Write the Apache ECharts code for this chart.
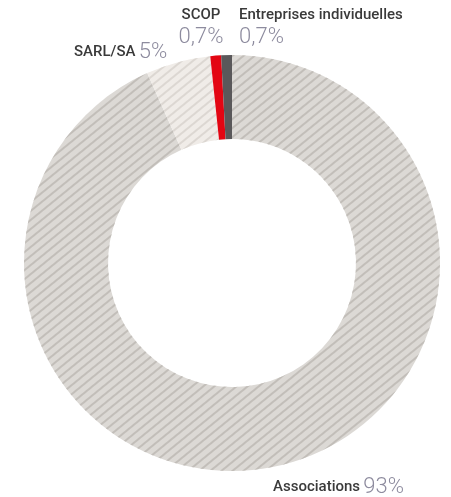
<!DOCTYPE html>
<html>
<head>
<meta charset="utf-8">
<script src="https://cdn.jsdelivr.net/npm/echarts@6/dist/echarts.min.js"></script>
<style>
  html, body { margin: 0; padding: 0; background: #fff; }
  #main { width: 451px; height: 497px; }
</style>
</head>
<body>
<div id="main"></div>
<script>
// donut: statut juridique
var names = ['Associations', 'SARL/SA', 'SCOP', 'Entreprises individuelles'];
var values = [93, 5, 0.7, 0.7];
var valueLabels = ['93%', '5%', '0,7%', '0,7%'];

var colors = ['#dcd9d5', '#f0ece8', '#e30613', '#5a585a'];
var decalColors = ['#c2beb9', '#dcd7d2', null, null];

// label spots (x, y, align)
var labelSpots = [
  { x: 273, y: 487, align: 'left' },
  { x: 74, y: 52, align: 'left' },
  { x: 201, y: 26, align: 'center' },
  { x: 239, y: 26, align: 'left' }
];

var chart = echarts.init(document.getElementById('main'), null, { renderer: 'canvas' });

var data = names.map(function (n, i) {
  var item = {
    name: n,
    value: values[i],
    itemStyle: { color: colors[i] }
  };
  if (decalColors[i]) {
    item.itemStyle.decal = {
      symbol: 'rect',
      symbolSize: 1,
      dashArrayX: [1, 0],
      dashArrayY: [1.2, 5],
      rotation: -Math.PI / 4.6,
      color: decalColors[i]
    };
  }
  return item;
});

var option = {
  backgroundColor: '#fff',
  animation: false,
  series: [
    {
      type: 'pie',
      center: [232, 263],
      radius: [124, 208],
      startAngle: 90,
      clockwise: true,
      minAngle: 3,
      avoidLabelOverlap: false,
      labelLine: { show: false },
      label: {
        show: true,
        position: 'outside',
        formatter: function (p) {
          if (p.dataIndex >= 2) {
            return '{n|' + p.name + '}\n{v|' + valueLabels[p.dataIndex] + '}';
          }
          return '{n|' + p.name + '} {v|' + valueLabels[p.dataIndex] + '}';
        },
        rich: {
          n: {
            fontFamily: 'Roboto, sans-serif',
            fontWeight: 500,
            fontSize: 15,
            color: '#3a3a3a',
            lineHeight: 22
          },
          v: {
            fontFamily: 'Roboto, sans-serif',
            fontWeight: 300,
            fontSize: 22,
            color: '#8d8b9e',
            lineHeight: 22
          }
        }
      },
      labelLayout: function (params) {
        var s = labelSpots[params.dataIndex];
        return { x: s.x, y: s.y, align: s.align, verticalAlign: 'middle' };
      },
      emphasis: { disabled: true },
      data: data
    }
  ]
};

chart.setOption(option);
</script>
</body>
</html>
